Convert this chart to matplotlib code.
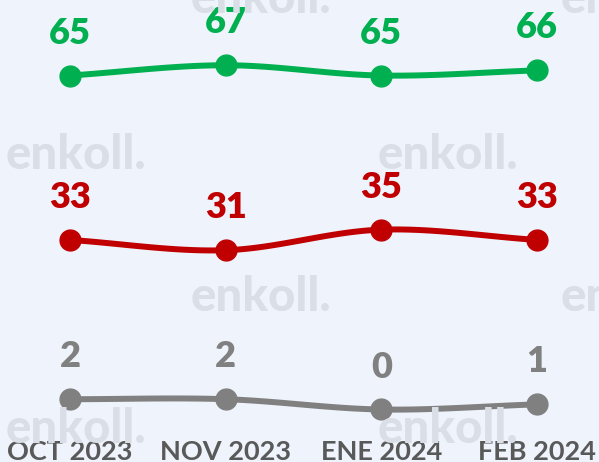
import numpy as np
import matplotlib
matplotlib.use("Agg")
import matplotlib.pyplot as plt
import matplotlib.transforms as mtransforms

# ---- data ----
categories = ["OCT 2023", "NOV 2023", "ENE 2024", "FEB 2024"]
green_vals = [65, 67, 65, 66]
red_vals = [33, 31, 35, 33]
gray_vals = [2, 2, 0, 1]

series_colors = ["#00B050", "#C00000", "#808080"]
bg = "#EEF3FC"
wm_color = "#D9DEE7"

plt.rcParams["font.family"] = ["Lato", "DejaVu Sans"]

W, H, DPI = 599, 462, 100
fig = plt.figure(figsize=(W / DPI, H / DPI), dpi=DPI, facecolor=bg)

# watermarks (faint "enkoll." texts)
wm_rows = [(13, [191, 561]), (169, [6, 378]), (311, [191, 561]), (443, [6, 378])]
for yb, xs in wm_rows:
    for xl in xs:
        fig.text(xl / W, 1 - yb / H, "enkoll.", color=wm_color, fontsize=34,
                 fontweight="black", ha="left", va="baseline", zorder=0)

ax = fig.add_axes([0, 0, 1, 1])
ax.set_facecolor("none")
ax.axis("off")
x = np.arange(len(categories))
ax.set_xlim(-0.4497, 3.398)
ax.set_ylim(-10.22, 79.7)


def catmull_rom(xs, ys, n=40):
    xs = np.asarray(xs, float)
    ys = np.asarray(ys, float)
    px = np.concatenate([[2 * xs[0] - xs[1]], xs, [2 * xs[-1] - xs[-2]]])
    py = np.concatenate([[2 * ys[0] - ys[1]], ys, [2 * ys[-1] - ys[-2]]])
    out_x, out_y = [], []
    for i in range(1, len(px) - 2):
        t = np.linspace(0, 1, n)
        for arr, out in ((px, out_x), (py, out_y)):
            p0, p1, p2, p3 = arr[i - 1], arr[i], arr[i + 1], arr[i + 2]
            out.extend(0.5 * ((2 * p1) + (-p0 + p2) * t
                              + (2 * p0 - 5 * p1 + 4 * p2 - p3) * t ** 2
                              + (-p0 + 3 * p1 - 3 * p2 + p3) * t ** 3))
    return np.array(out_x), np.array(out_y)


for vals, col in zip([green_vals, red_vals, gray_vals], series_colors):
    sx, sy = catmull_rom(x, vals)
    ax.plot(sx, sy, color=col, lw=4.3, solid_capstyle="round", zorder=3)
    ax.plot(x, vals, "o", color=col, ms=15, zorder=4)
    for xi, v in zip(x, vals):
        ax.annotate(str(v), (xi, v), xytext=(0, 23), textcoords="offset points",
                    ha="center", va="baseline", fontsize=26, fontweight="heavy",
                    color=col, zorder=5)

trans = mtransforms.blended_transform_factory(ax.transData, ax.transAxes)
for xi, lab in zip(x, categories):
    ax.text(xi, 1.5 / H, lab, transform=trans, ha="center", va="baseline",
            fontsize=19.5, fontweight="bold", color="#595959", zorder=5)

fig.savefig("out.png", dpi=DPI, facecolor=bg)
